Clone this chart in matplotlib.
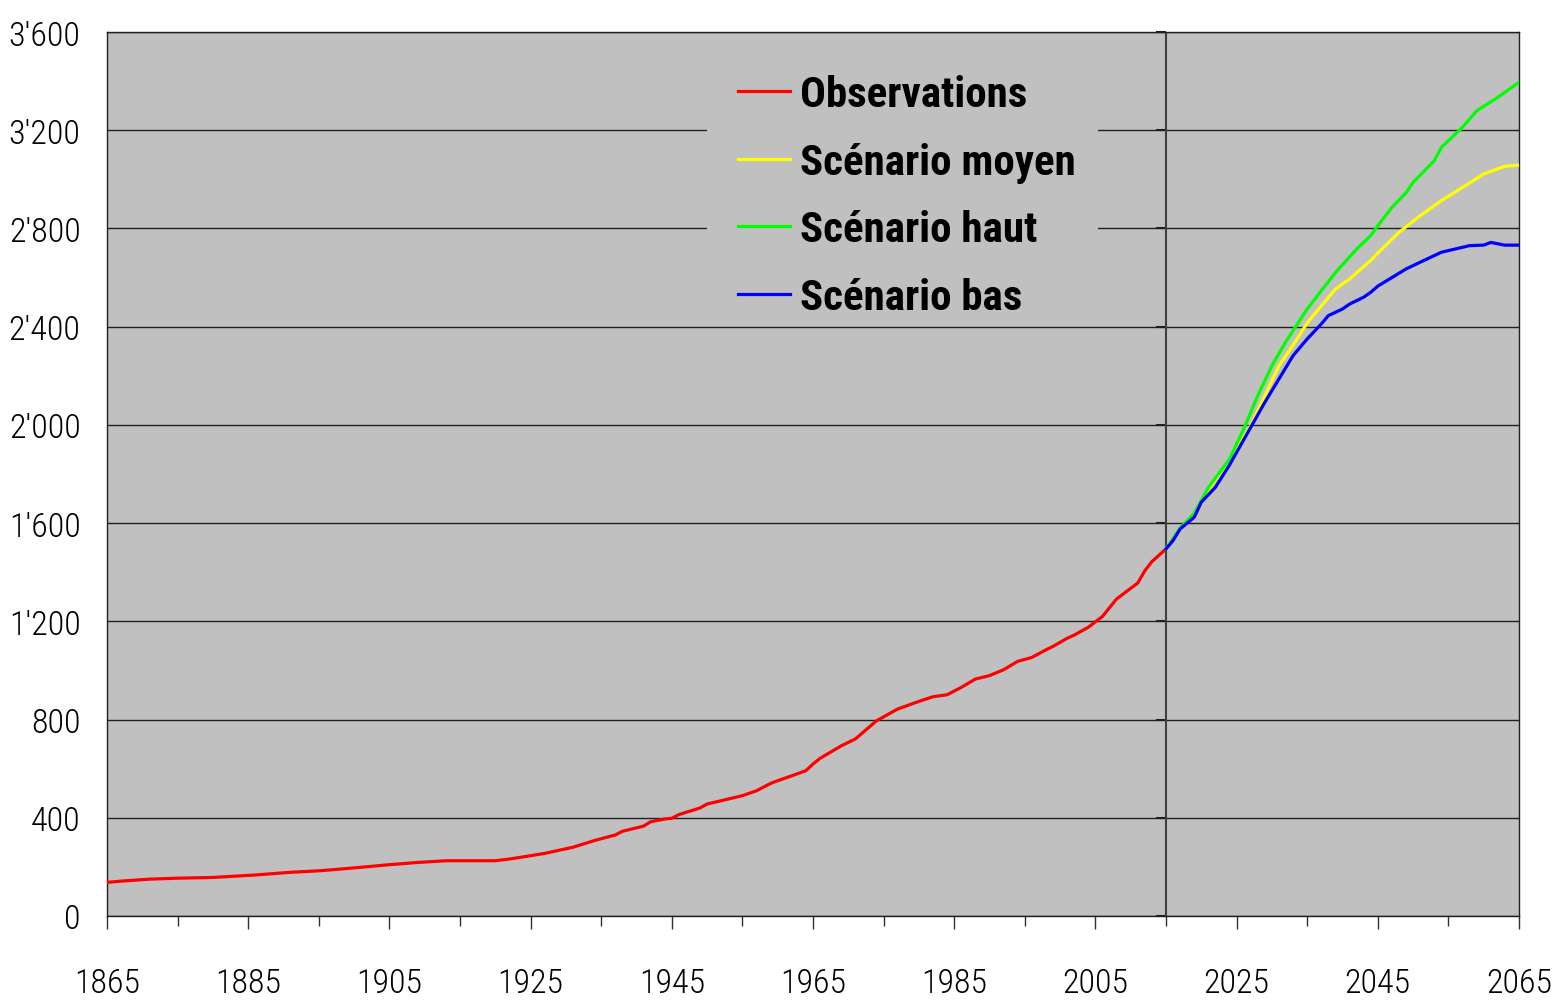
import matplotlib
matplotlib.use("Agg")
import matplotlib.pyplot as plt
from matplotlib.ticker import FixedLocator, MultipleLocator, FuncFormatter
from matplotlib.patches import Rectangle

# observations
obs_years = [1865, 1867, 1871, 1875, 1880, 1886, 1891, 1895, 1898, 1902, 1905, 1909,
             1913, 1920, 1922, 1924, 1927, 1931, 1934, 1937, 1938, 1941, 1942, 1944,
             1945, 1946, 1949, 1950, 1955, 1957, 1959, 1960, 1962, 1964, 1965, 1966,
             1969, 1971, 1974, 1977, 1980, 1982, 1984, 1986, 1988, 1990, 1992, 1994,
             1996, 1998, 1999, 2001, 2002, 2004, 2006, 2008, 2011, 2012, 2013, 2015]
obs_vals = [137, 142, 150, 154, 157, 167, 178, 184, 191, 201, 209, 218,
            225, 225, 232, 241, 255, 280, 307, 330, 345, 366, 384, 395,
            398, 413, 440, 456, 490, 510, 540, 551, 571, 592, 619, 642,
            693, 721, 795, 843, 874, 893, 901, 931, 965, 979, 1003, 1037,
            1053, 1084, 1098, 1131, 1144, 1176, 1220, 1291, 1356, 1406, 1443, 1495]

# scenarios
moy_years = [2015, 2017, 2019, 2021, 2024, 2027, 2029, 2031, 2033, 2035, 2037, 2039,
             2041, 2044, 2045, 2048, 2051, 2054, 2057, 2060, 2063, 2065]
moy_vals = [1495, 1576, 1630, 1735, 1855, 1997, 2119, 2241, 2325, 2415, 2485, 2553,
            2594, 2670, 2700, 2784, 2852, 2913, 2967, 3022, 3053, 3058]

haut_years = [2015, 2017, 2019, 2021, 2024, 2026, 2028, 2030, 2032, 2035, 2037, 2039,
              2042, 2044, 2045, 2047, 2049, 2050, 2053, 2054, 2057, 2059, 2062, 2065]
haut_vals = [1495, 1580, 1640, 1745, 1861, 1983, 2119, 2241, 2340, 2472, 2547, 2620,
             2716, 2771, 2811, 2886, 2945, 2988, 3076, 3130, 3212, 3279, 3334, 3395]

bas_years = [2015, 2016, 2017, 2019, 2020, 2022, 2024, 2025, 2027, 2029, 2031, 2033,
             2035, 2037, 2038, 2040, 2041, 2043, 2044, 2045, 2049, 2052, 2054, 2058,
             2060, 2061, 2063, 2065]
bas_vals = [1495, 1529, 1576, 1624, 1685, 1746, 1837, 1888, 1990, 2092, 2187, 2282,
            2350, 2411, 2445, 2472, 2492, 2520, 2540, 2565, 2635, 2676, 2703, 2730,
            2732, 2743, 2732, 2732]

x_ticks = list(range(1865, 2066, 20))
x_minor = list(range(1875, 2066, 20))
labels = ["Observations", "Scénario moyen", "Scénario haut", "Scénario bas"]

fam = ["Roboto Condensed", "DejaVu Sans"]

fig = plt.figure(figsize=(15.55, 10.03), dpi=100)
ax = fig.add_axes([107/1555, 1-917/1003, 1412/1555, 884/1003])
ax.set_facecolor("#C0C0C0")

ax.set_xlim(1865, 2065)
ax.set_ylim(0, 3600)
ax.xaxis.set_major_locator(FixedLocator(x_ticks))
ax.xaxis.set_minor_locator(FixedLocator(x_minor))
ax.yaxis.set_major_locator(MultipleLocator(400))
ax.yaxis.set_major_formatter(FuncFormatter(lambda v, p: f"{int(v):,}".replace(",", "'")))
ax.grid(axis="y", color="#202020", lw=1.0, zorder=1)
ax.set_axisbelow(True)

ax.tick_params(axis="x", which="major", length=9.5, width=1, color="#303030", pad=27,
               labelsize=24.5)
ax.tick_params(axis="x", which="minor", length=7.5, width=1, color="#303030")
ax.tick_params(axis="y", length=0, pad=19, labelsize=24.5)
for lab in ax.get_xticklabels() + ax.get_yticklabels():
    lab.set_family(fam)
    lab.set_weight("light")
for s in ax.spines.values():
    s.set_color("#202020")
    s.set_linewidth(1.0)

# vertical separator at 2015 with small ticks on its left
ax.axvline(2015, color="#404040", lw=1.5, zorder=2)
sec = ax.secondary_yaxis((2015 - 1865) / 200)
sec.yaxis.set_major_locator(MultipleLocator(400))
sec.yaxis.set_ticks_position("left")
sec.tick_params(direction="out", length=7, width=1.5, color="#202020",
                labelleft=False, labelright=False)
for k in sec.spines:
    sec.spines[k].set_visible(False)

# legend background (hides gridlines behind legend)
ax.add_patch(Rectangle((0.4249, 0.669), 0.277, 0.32, transform=ax.transAxes,
                       facecolor="#C0C0C0", edgecolor="none", zorder=1.5))

ax.plot(obs_years, obs_vals, color="#FF0000", lw=2.3, label=labels[0], zorder=3)
ax.plot(moy_years, moy_vals, color="#FFFF00", lw=2.3, label=labels[1], zorder=3)
ax.plot(haut_years, haut_vals, color="#00FF00", lw=2.3, label=labels[2], zorder=3)
ax.plot(bas_years, bas_vals, color="#0000FF", lw=2.3, label=labels[3], zorder=3)

ax.legend(loc="upper left", bbox_to_anchor=(738/1555, 1-75/1003),
          bbox_transform=fig.transFigure, frameon=False, borderpad=0,
          borderaxespad=0, handlelength=1.2, handletextpad=0.23,
          labelspacing=0.62,
          prop={"family": fam, "weight": "bold", "size": 31})

fig.savefig("out.png", dpi=100)
